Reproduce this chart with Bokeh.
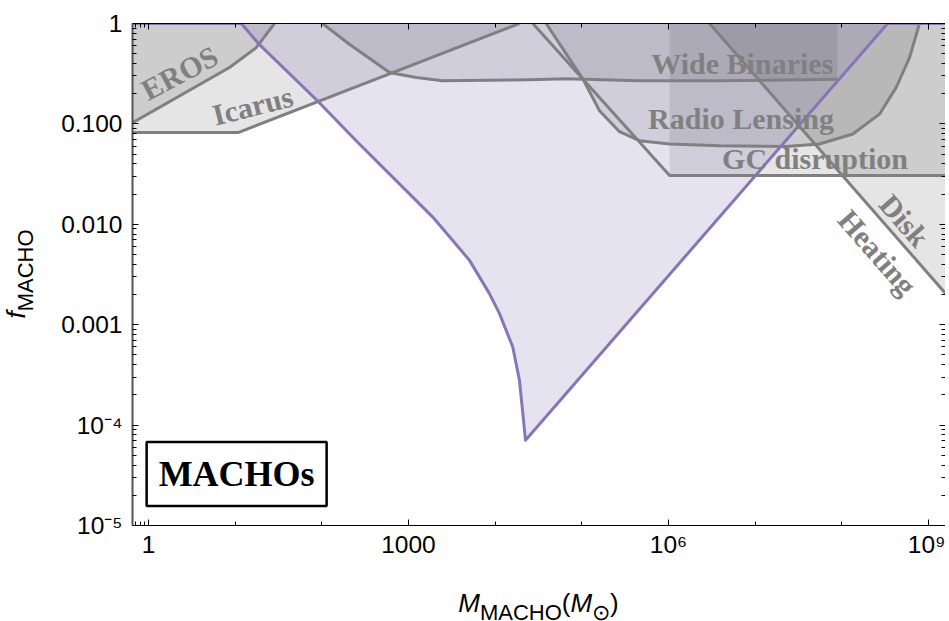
import numpy as np
from bokeh.plotting import figure
from bokeh.layouts import row, column
from bokeh.models import (FixedTicker, LogAxis, Label, Range1d, CustomJSTickFormatter, Div)
from bokeh.core.properties import value
from bokeh.embed import file_html
from bokeh.resources import INLINE

# ---------------- data ----------------
x_major = [1, 1000, 1000000, 1000000000]
x_major_labels = ["1", "1000", "10\u2076", "10\u2079"]
x_minor = [0.7, 0.8, 0.9, 10, 100, 1e4, 1e5, 1e7, 1e8]

y_major = [1e-5, 1e-4, 1e-3, 1e-2, 1e-1, 1]
y_major_labels = ["10\u207b\u2075", "10\u207b\u2074", "0.001", "0.010", "0.100", "1"]
y_decades = [1e-5, 1e-4, 1e-3, 1e-2, 1e-1]
y_mantissas = [2, 3, 4, 5, 6, 7, 8, 9]

# MACHO constraint (purple)
macho_m = [0.5, 11.8, 18.1, 89, 249, 1905, 3243, 5058, 8590, 11220, 15960, 19050, 21230, 22390, 3.37e8, 3e9]
macho_f = [1.0, 1.0, 0.646, 0.170, 0.068, 0.0118, 0.0069, 0.00437, 0.00204, 0.00129, 0.0006, 0.00028, 0.000112, 7.06e-5, 1.0, 1.0]

# EROS
eros_m = [0.5, 8.6, 17.5, 28.4]
eros_f = [0.09, 0.365, 0.575, 1.0]

# Icarus
icarus_m = [0.5, 11.0, 1.9e4]
icarus_f = [0.0823, 0.0823, 1.0]

# Wide Binaries
wb_m = [102, 208, 604, 1227, 2489, 2.49e4, 6.59e4, 4.62e5, 3.87e6, 2.28e7, 8.9e7]
wb_f = [1.0, 0.622, 0.325, 0.29, 0.269, 0.275, 0.281, 0.269, 0.269, 0.273, 0.279]

# Radio Lensing
rl_m = [3.88e4, 6.59e4, 1.03e5, 1.6e5, 2.72e5, 4.62e5, 1.03e6, 3.87e6, 2.28e7, 5.52e7, 1.34e8, 2.72e8, 4.24e8, 6.04e8, 7.87e8]
rl_f = [1.0, 0.499, 0.279, 0.135, 0.0836, 0.068, 0.0631, 0.0607, 0.0597, 0.0631, 0.0794, 0.125, 0.231, 0.458, 1.0]

# GC disruption
gc_line_m = [2.72e4, 1.03e6, 3e9]
gc_line_f = [1.0, 0.0306, 0.0306]
gc_fill_m = [1.03e6, 3e9]
gc_fill_f = [0.0306, 0.0306]

# Disk heating
disk_m = [2.97e6, 1.57e9, 3e9]
disk_f = [1.0, 0.00205, 0.00107]

# in-plot labels
lab_text = ["EROS", "Icarus", "Wide Binaries", "Radio Lensing", "GC disruption", "Disk", "Heating"]
lab_m = [2.28, 15.9, 7.1e6, 6.86e6, 4.9e7, 5.28e8, 2.58e8]
lab_f = [0.323, 0.152, 0.401, 0.114, 0.0456, 0.0109, 0.00525]
lab_angle_deg = [28, 14, 0, 0, 0, -49, -49]

# ---------------- layout sizes ----------------
YDIV_W = 50
TOTAL_W = 945
P_W = TOTAL_W - YDIV_W
P_H = 573
XDIV_H = 47

# ---------------- figure ----------------
p = figure(width=P_W, height=P_H, x_axis_type="log", y_axis_type="log",
           x_range=Range1d(0.654, 1.57e9), y_range=Range1d(1e-5, 1),
           output_backend="svg", toolbar_location=None,
           min_border_left=82, min_border_right=0, min_border_top=23, min_border_bottom=48)
p.grid.visible = False
p.outline_line_color = None
p.background_fill_color = "white"
p.border_fill_color = "white"

GRAY_FILL = "black"
GA = 0.1
ones = lambda arr: [1.0] * len(arr)

# fills
p.varea(x=icarus_m, y1=icarus_f, y2=ones(icarus_m), fill_color=GRAY_FILL, fill_alpha=GA)
p.varea(x=eros_m, y1=eros_f, y2=ones(eros_m), fill_color=GRAY_FILL, fill_alpha=GA)
p.varea(x=wb_m, y1=wb_f, y2=ones(wb_m), fill_color=GRAY_FILL, fill_alpha=GA)
p.varea(x=rl_m, y1=rl_f, y2=ones(rl_m), fill_color=GRAY_FILL, fill_alpha=GA)
p.varea(x=gc_fill_m, y1=gc_fill_f, y2=ones(gc_fill_m), fill_color=GRAY_FILL, fill_alpha=GA)
p.varea(x=disk_m, y1=disk_f, y2=ones(disk_m), fill_color=GRAY_FILL, fill_alpha=GA)
p.varea(x=macho_m, y1=macho_f, y2=ones(macho_m), fill_color="#8273b4", fill_alpha=0.2)

# lines
LC = "#808080"
LW = 3
for mm, ff in [(icarus_m, icarus_f), (eros_m, eros_f), (wb_m, wb_f), (rl_m, rl_f),
               (gc_line_m, gc_line_f), (disk_m, disk_f)]:
    p.line(mm, ff, line_color=LC, line_width=LW, line_join="round")
p.line(macho_m, macho_f, line_color="#8676b6", line_width=3, line_join="round")

# in-plot labels
p.text(x=lab_m, y=lab_f, text=lab_text, angle=[np.deg2rad(a) for a in lab_angle_deg],
       text_font=value("Liberation Serif"), text_font_style="bold", text_font_size="30px",
       text_color="#808080", text_align="center", text_baseline="middle")

p.add_layout(Label(x=10.4, y=3.26e-5, text="MACHOs", text_font="Liberation Serif",
                   text_font_style="bold", text_font_size="36px", text_color="black",
                   text_align="center", text_baseline="middle",
                   border_line_color="black", border_line_width=2.5,
                   background_fill_color="white", padding=12))

# ---------------- axes ----------------
y_minor = [m * d for d in y_decades for m in y_mantissas]
xt = FixedTicker(ticks=x_major, minor_ticks=x_minor)
yt = FixedTicker(ticks=y_major, minor_ticks=y_minor)

bx = p.below[0]
ly = p.left[0]
ax_top = LogAxis()
ax_right = LogAxis()
p.add_layout(ax_top, "above")
p.add_layout(ax_right, "right")

for ax in (bx, ax_top):
    ax.ticker = xt
for ax in (ly, ax_right):
    ax.ticker = yt

bx.major_label_overrides = {k: v for k, v in zip(x_major, x_major_labels)}
ly.major_label_overrides = {k: v for k, v in zip(y_major, y_major_labels)}

for ax in (bx, ly, ax_top, ax_right):
    ax.major_tick_in = 6
    ax.major_tick_out = 0
    ax.minor_tick_in = 4
    ax.minor_tick_out = 0
    ax.axis_line_color = "black"
    ax.axis_line_width = 1
    ax.major_tick_line_color = "black"
    ax.minor_tick_line_color = "black"
    ax.major_label_text_font = "Liberation Sans"
    ax.major_label_text_font_size = "24.5px"
    ax.major_label_text_color = "black"

ly.axis_line_color = "#555555"
ly.axis_line_width = 2
ly.major_label_standoff = 10
bx.major_label_standoff = 5

for ax in (ax_top, ax_right):
    ax.formatter = CustomJSTickFormatter(code="return ''")
    ax.major_label_text_font_size = "1px"
    ax.major_label_standoff = 0

# ---------------- axis titles as HTML text ----------------
FONT = "font-family:'Liberation Sans',Arial,sans-serif; font-size:26px; line-height:30px; color:black; white-space:nowrap;"
SUB = "font-size:22px; position:relative; top:8px;"

ytitle_html = (
    f'<div style="{FONT} width:502px; text-align:center; transform-origin:0 0; '
    f'transform: translate(1px, 525px) rotate(-90deg);">'
    f'<i>f</i><span style="{SUB}">MACHO</span></div>'
)
xtitle_html = (
    f'<div style="{FONT} margin-left:82px; width:813px; text-align:center; padding-top:15px;">'
    f'<i>M</i><span style="{SUB}">MACHO</span>(<i>M</i><span style="{SUB}">\u2299</span>)</div>'
)

ydiv = Div(text=ytitle_html, width=YDIV_W, height=P_H + XDIV_H, margin=0)
xdiv = Div(text=xtitle_html, width=P_W, height=XDIV_H, margin=0)

layout = row(ydiv, column(p, xdiv))

open("out.html", "w").write(file_html(layout, INLINE))
